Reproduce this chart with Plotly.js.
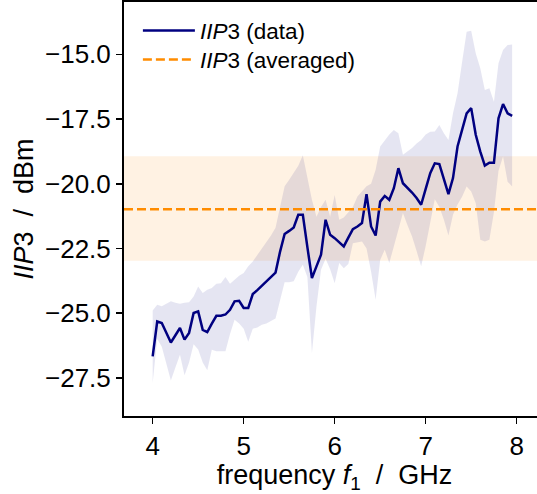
<!DOCTYPE html>
<html>
<head>
<meta charset="utf-8">
<script src="https://cdn.plot.ly/plotly-3.0.1.min.js"></script>
<style>
html,body{margin:0;padding:0;overflow:hidden;background:#fff;}
#chart{width:545px;height:494px;}
</style>
</head>
<body>
<div id="chart"></div>
<script>
// frequency f1 in GHz
var freq = [4.00,4.05,4.10,4.15,4.20,4.25,4.30,4.35,4.40,4.45,
            4.50,4.55,4.60,4.65,4.70,4.75,4.80,4.85,4.90,4.95,
            5.00,5.05,5.10,5.15,5.20,5.25,5.30,5.35,5.40,5.45,
            5.50,5.55,5.60,5.65,5.70,5.75,5.80,5.85,5.90,5.95,
            6.00,6.05,6.10,6.15,6.20,6.25,6.30,6.35,6.40,6.45,
            6.50,6.55,6.60,6.65,6.70,6.75,6.80,6.85,6.90,6.95,
            7.00,7.05,7.10,7.15,7.20,7.25,7.30,7.35,7.40,7.45,
            7.50,7.55,7.60,7.65,7.70,7.75,7.80,7.85,7.90,7.95];

// IIP3 data (dBm)
var iip3 = [-26.67,-25.32,-25.38,-25.75,-26.13,-25.85,-25.57,-26.02,-25.76,-24.99,
            -24.93,-25.64,-25.73,-25.40,-25.10,-25.10,-25.05,-24.87,-24.54,-24.52,
            -24.80,-24.80,-24.26,-24.11,-23.93,-23.76,-23.59,-23.43,-22.62,-21.94,
            -21.82,-21.69,-21.20,-21.20,-22.45,-23.64,-23.19,-22.74,-21.39,-21.97,
            -22.10,-22.25,-22.42,-22.08,-21.75,-21.65,-21.52,-20.40,-21.65,-22.00,
            -20.69,-20.47,-20.62,-20.17,-19.40,-19.98,-20.15,-20.34,-20.55,-20.81,
            -20.20,-19.59,-19.21,-19.24,-19.82,-20.40,-19.78,-18.56,-17.92,-17.28,
            -17.08,-18.11,-18.76,-19.30,-19.19,-19.19,-17.47,-16.92,-17.28,-17.38];

// upper edge of spread band
var iip3Upper = [-24.90,-24.67,-24.73,-24.65,-24.54,-24.60,-24.63,-24.60,-24.58,-24.35,
                 -23.97,-24.22,-24.09,-24.03,-23.86,-23.84,-23.60,-23.86,-23.71,-23.55,
                 -23.45,-23.19,-23.00,-22.75,-22.50,-22.25,-22.00,-21.70,-20.90,-20.10,
                 -19.85,-19.60,-19.30,-18.90,-19.80,-20.62,-21.27,-20.90,-20.62,-21.27,
                 -20.43,-21.39,-21.30,-21.10,-20.90,-20.49,-20.30,-20.10,-20.00,-19.46,
                 -18.56,-18.31,-18.10,-17.92,-18.05,-18.88,-18.75,-18.62,-18.45,-18.31,
                 -18.10,-17.99,-17.98,-17.73,-18.05,-18.31,-17.28,-16.50,-15.30,-14.13,
                 -14.09,-14.96,-15.54,-16.38,-16.31,-16.83,-15.35,-14.83,-14.64,-14.62];

// lower edge of spread band
var iip3Lower = [-27.70,-26.00,-26.30,-26.90,-27.60,-27.10,-26.60,-27.40,-26.90,-26.20,
                 -26.40,-26.90,-27.20,-26.41,-26.47,-26.47,-26.47,-25.80,-25.25,-25.40,
                 -25.60,-26.10,-25.60,-25.55,-25.45,-25.40,-25.30,-25.20,-24.50,-23.80,
                 -23.80,-23.77,-23.40,-23.13,-23.60,-26.54,-24.74,-23.32,-22.90,-23.30,
                 -23.84,-23.06,-23.26,-23.10,-22.30,-22.26,-22.23,-22.50,-23.40,-24.48,
                 -22.94,-22.55,-23.06,-22.42,-21.80,-21.13,-21.60,-22.04,-22.60,-23.19,
                 -22.40,-21.52,-20.60,-20.90,-21.39,-22.00,-21.20,-20.80,-20.50,-20.11,
                 -20.30,-20.75,-22.16,-22.23,-22.16,-21.10,-19.50,-18.95,-19.92,-20.11];

// averaged IIP3 and its spread
var iip3Avg = -20.98;
var iip3AvgUpper = -18.94;
var iip3AvgLower = -22.97;

var yTicks = [-27.5,-25.0,-22.5,-20.0,-17.5,-15.0];
var xTicks = [4,5,6,7,8];

var xRange = [3.685, 8.311];
var yRange = [-28.97, -12.98];

var font = "Arial, 'Liberation Sans', sans-serif";
var NB = "\u00a0";

var traces = [
  {x: freq, y: iip3Lower, mode: 'lines', line: {width: 0, color: 'rgba(0,0,128,0)'},
   hoverinfo: 'skip', showlegend: false},
  {x: freq, y: iip3Upper, mode: 'lines', fill: 'tonexty', fillcolor: 'rgba(0,0,128,0.1)',
   line: {width: 0, color: 'rgba(0,0,128,0)'}, hoverinfo: 'skip', showlegend: false},
  {x: freq, y: iip3, mode: 'lines', name: '<i>IIP</i>3 (data)',
   line: {color: '#000080', width: 2.5}, legend: 'legend'},
  {x: xRange, y: [iip3Avg, iip3Avg], mode: 'lines', name: '<i>IIP</i>3 (averaged)',
   line: {color: '#ff8c00', width: 2.5, dash: '9px,4px'}, legend: 'legend2'}
];

var legendBase = {xanchor: 'left', yanchor: 'top', bgcolor: 'rgba(0,0,0,0)',
                  font: {size: 22.5, family: font, color: '#000'}, itemwidth: 52};

var layout = {
  width: 545, height: 494,
  margin: {l: 124, r: 0, t: 2, b: 78},
  paper_bgcolor: '#fff', plot_bgcolor: '#fff',
  font: {family: font, size: 26, color: '#000'},
  showlegend: true,
  legend: Object.assign({x: 0.033, y: 0.982}, legendBase),
  legend2: Object.assign({x: 0.033, y: 0.912}, legendBase),
  xaxis: {range: xRange, tickvals: xTicks, ticktext: xTicks.map(String),
          showgrid: false, zeroline: false, showline: true, linecolor: '#000', linewidth: 2,
          mirror: true, ticks: 'outside', ticklen: 6, tickwidth: 1.5, tickcolor: '#000',
          tickfont: {size: 26},
          title: {text: 'frequency <i>f</i><sub>1</sub>' + NB + NB + '/' + NB + NB + 'GHz',
                  font: {size: 27}, standoff: 1}},
  yaxis: {range: yRange, tickvals: yTicks, tickformat: '.1f',
          showgrid: false, zeroline: false, showline: true, linecolor: '#000', linewidth: 2,
          mirror: true, ticks: 'outside', ticklen: 6, tickwidth: 1.5, tickcolor: '#000',
          tickfont: {size: 26},
          title: {text: '<i>IIP</i>3' + NB + NB + '/' + NB + NB + 'dBm', font: {size: 27}, standoff: 4}},
  shapes: [
    {type: 'rect', xref: 'paper', yref: 'y', x0: 0, x1: 1, y0: iip3AvgLower, y1: iip3AvgUpper,
     fillcolor: 'rgba(255,140,0,0.11)', line: {width: 0}, layer: 'below'}
  ]
};

Plotly.newPlot('chart', traces, layout, {staticPlot: true, displayModeBar: false});
</script>
</body>
</html>
